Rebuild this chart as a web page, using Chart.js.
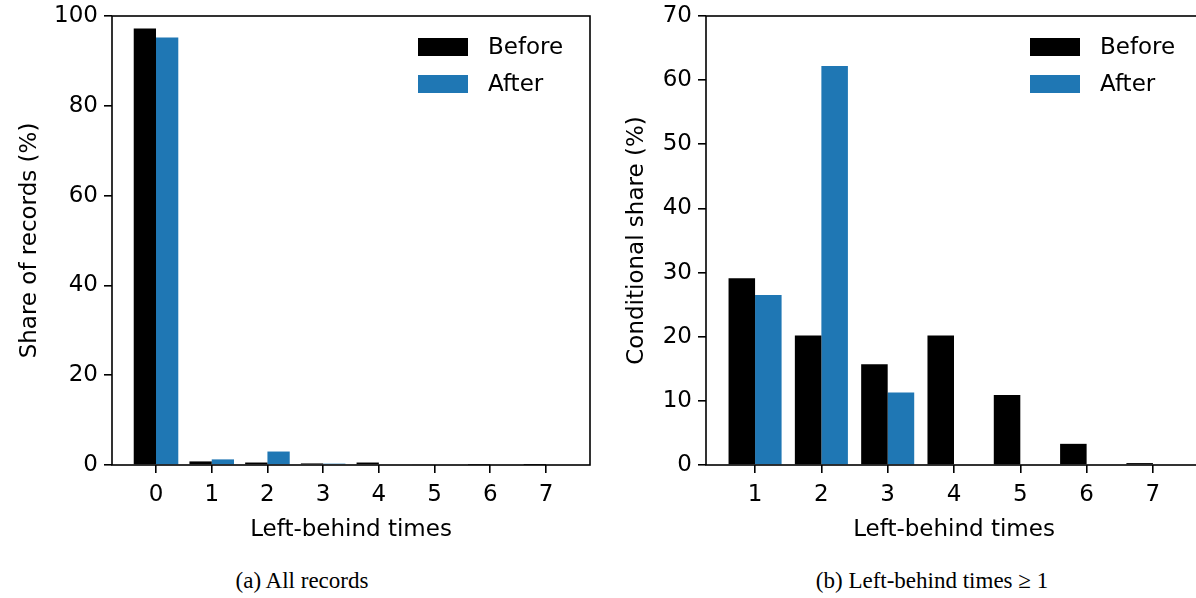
<!DOCTYPE html>
<html>
<head>
<meta charset="utf-8">
<script src="https://cdn.jsdelivr.net/npm/chart.js@4.4.0/dist/chart.umd.min.js"></script>
<style>
  html, body { margin: 0; padding: 0; background: #fff; overflow: hidden; width: 1196px; height: 598px; }
  .box { position: absolute; top: 0; height: 560px; }
  .cap { position: absolute; top: 568px; font-family: "Liberation Serif", serif; font-size: 23px; color: #000; text-align: center; white-space: nowrap; }
</style>
</head>
<body>
<div class="box" style="left:0;width:600px"><canvas id="chartAll"></canvas></div>
<div class="box" style="left:600px;width:612px"><canvas id="chartCond"></canvas></div>
<div class="cap" style="left:152px;width:300px">(a) All records</div>
<div class="cap" style="left:782px;width:300px">(b) Left-behind times ≥ 1</div>
<script>
// datos
const vecesTodas = [0, 1, 2, 3, 4, 5, 6, 7]
const antesTodas = [97.2, 0.8, 0.55, 0.35, 0.55, 0.2, 0.05, 0.01]
const despuesTodas = [95.2, 1.25, 3.0, 0.3, 0, 0, 0, 0]

const vecesCond = [1, 2, 3, 4, 5, 6, 7]
const antesCond = [29.1, 20.2, 15.7, 20.2, 10.9, 3.3, 0.3]
const despuesCond = [26.5, 62.2, 11.3, 0, 0, 0, 0]

const ticksY1 = [0, 20, 40, 60, 80, 100]
const ticksY2 = [0, 10, 20, 30, 40, 50, 60, 70]

Chart.defaults.font.family = 'DejaVu Sans'
Chart.defaults.font.size = 23
Chart.defaults.color = '#000'
Chart.defaults.animation = false

const negro = '#000000'
const azul = '#1f77b4'

// marco y leyenda dentro del area
const marco = {
  id: 'marco',
  afterDatasetsDraw(chart) {
    const {ctx, chartArea: a} = chart
    ctx.save()
    ctx.strokeStyle = '#000'
    ctx.lineWidth = 1.6
    ctx.strokeRect(a.left, a.top, a.right - a.left, a.bottom - a.top)
    ctx.font = '23px "DejaVu Sans"'
    ctx.textBaseline = 'middle'
    chart.data.datasets.forEach((ds, i) => {
      const y = a.top + 31 + i * 37
      const x = a.right - 172
      ctx.fillStyle = ds.backgroundColor
      ctx.fillRect(x, y - 9, 50, 18)
      ctx.fillStyle = '#000'
      ctx.fillText(ds.label, x + 70, y + 1)
    })
    ctx.restore()
  }
}

function pares(xs, ys) {
  return xs.map((x, i) => ({x: x, y: ys[i]}))
}

function grafica(id, xs, antes, despues, yTicks, xMin, xMax, yTitulo, anchoY, padTitulo) {
  new Chart(document.getElementById(id), {
    type: 'bar',
    data: {
      datasets: [
        { label: 'Before', data: pares(xs, antes), backgroundColor: negro, categoryPercentage: 0.8, barPercentage: 1.0 },
        { label: 'After', data: pares(xs, despues), backgroundColor: azul, categoryPercentage: 0.8, barPercentage: 1.0 }
      ]
    },
    options: {
      responsive: true,
      maintainAspectRatio: false,
      layout: { padding: { top: 16, left: 0, right: 10, bottom: 0 } },
      plugins: { legend: { display: false }, tooltip: { enabled: false } },
      scales: {
        x: {
          type: 'linear',
          offset: false,
          min: xMin,
          max: xMax,
          afterBuildTicks: s => { s.ticks = xs.map(v => ({value: v})) },
          afterFit: s => { s.height = 95; s.paddingLeft = 0; s.paddingRight = 0 },
          grid: { offset: false, drawOnChartArea: false, drawTicks: true, tickLength: 8, color: '#000', lineWidth: 1.6 },
          border: { display: false },
          ticks: { padding: 8, maxRotation: 0 },
          title: { display: true, text: 'Left-behind times', padding: { top: 0, bottom: 16 } }
        },
        y: {
          min: yTicks[0],
          max: yTicks[yTicks.length - 1],
          afterBuildTicks: s => { s.ticks = yTicks.map(v => ({value: v})) },
          afterFit: s => { s.width = anchoY; s.paddingTop = 0; s.paddingBottom = 0 },
          grid: { drawOnChartArea: false, drawTicks: true, tickLength: 8, color: '#000', lineWidth: 1.6 },
          border: { display: false },
          ticks: { padding: 6 },
          title: { display: true, text: yTitulo, padding: { top: padTitulo, bottom: 0 } }
        }
      }
    },
    plugins: [marco]
  })
}

grafica('chartAll', vecesTodas, antesTodas, despuesTodas, ticksY1, -0.79, 7.79, 'Share of records (%)', 112, 16)
grafica('chartCond', vecesCond, antesCond, despuesCond, ticksY2, 0.26, 7.74, 'Conditional share (%)', 106, 23)
</script>
</body>
</html>
